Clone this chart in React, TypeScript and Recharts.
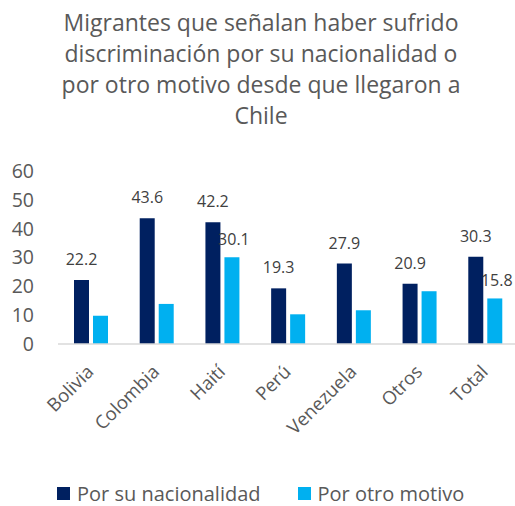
import { Bar, BarChart, LabelList, XAxis, YAxis } from "recharts"

const categories = ["Bolivia", "Colombia", "Haití", "Perú", "Venezuela", "Otros", "Total"]
const nacionalidad = [22.2, 43.6, 42.2, 19.3, 27.9, 20.9, 30.3]
const otroMotivo = [9.8, 13.9, 30.1, 10.3, 11.7, 18.3, 15.8]
// only some light bars carry a value label in the original
const otroMotivoLabels = [null, null, 30.1, null, null, null, 15.8]
const yTicks = [0, 10, 20, 30, 40, 50, 60]
const seriesNames = ["Por su nacionalidad", "Por otro motivo"]
const titleLines = [
  "Migrantes que señalan haber sufrido",
  "discriminación por su nacionalidad o",
  "por otro motivo desde que llegaron a",
  "Chile",
]

const DARK = "#002060"
const LIGHT = "#00B0F0"
const GREY = "#595959"
const FONT = "'Open Sans', sans-serif"

const data = categories.map((name, i) => ({
  name,
  nac: nacionalidad[i],
  otro: otroMotivo[i],
  otroLabel: otroMotivoLabels[i],
}))

function XTick(props: any) {
  const { x, y, payload } = props
  const ax = x + 4
  const ay = y + 29
  return (
    <text
      x={ax}
      y={ay}
      textAnchor="end"
      fill={GREY}
      fontSize={18.5}
      fontFamily={FONT}
      transform={`rotate(-45, ${ax}, ${ay})`}
    >
      {payload.value}
    </text>
  )
}

export default function App() {
  return (
    <div
      style={{
        position: "absolute",
        left: 0,
        top: 0,
        width: 515,
        height: 506,
        overflow: "hidden",
        background: "#fff",
        fontFamily: FONT,
      }}
    >
      <div
        style={{
          position: "absolute",
          top: 7,
          left: 0,
          width: 522,
          textAlign: "center",
          color: GREY,
          fontSize: 23,
          lineHeight: "31px",
        }}
      >
        {titleLines.map((t) => (
          <div key={t}>{t}</div>
        ))}
      </div>
      <div style={{ position: "absolute", left: 0, top: 0 }}>
        <BarChart
          width={520}
          height={460}
          data={data}
          margin={{ top: 171, right: 2, bottom: 0, left: 0 }}
          barSize={15}
          barGap={4}
        >
          <XAxis
            dataKey="name"
            height={116}
            tickLine={false}
            tickSize={0}
            tickMargin={0}
            axisLine={{ stroke: "#D9D9D9", strokeWidth: 1.5 }}
            tick={<XTick />}
            interval={0}
          />
          <YAxis
            width={58}
            domain={[0, 60]}
            ticks={yTicks}
            axisLine={false}
            tickLine={false}
            tickSize={0}
            tickMargin={24}
            tick={{ fill: GREY, fontSize: 19.5, fontFamily: FONT }}
          />
          <Bar dataKey="nac" fill={DARK} isAnimationActive={false}>
            <LabelList dataKey="nac" position="top" offset={15} fill="#404040" fontSize={16} fontFamily={FONT} />
          </Bar>
          <Bar dataKey="otro" fill={LIGHT} isAnimationActive={false}>
            <LabelList dataKey="otroLabel" position="top" offset={12} dx={2} fill="#404040" fontSize={16} fontFamily={FONT} />
          </Bar>
        </BarChart>
      </div>
      <div
        style={{
          position: "absolute",
          top: 480,
          left: 57,
          display: "flex",
          alignItems: "center",
          color: GREY,
          fontSize: 20,
        }}
      >
        {seriesNames.map((s, i) => (
          <div key={s} style={{ display: "flex", alignItems: "center", marginRight: i === 0 ? 37 : 0 }}>
            <span style={{ width: 13, height: 13, background: i === 0 ? DARK : LIGHT, marginRight: 7 }} />
            <span>{s}</span>
          </div>
        ))}
      </div>
    </div>
  )
}
